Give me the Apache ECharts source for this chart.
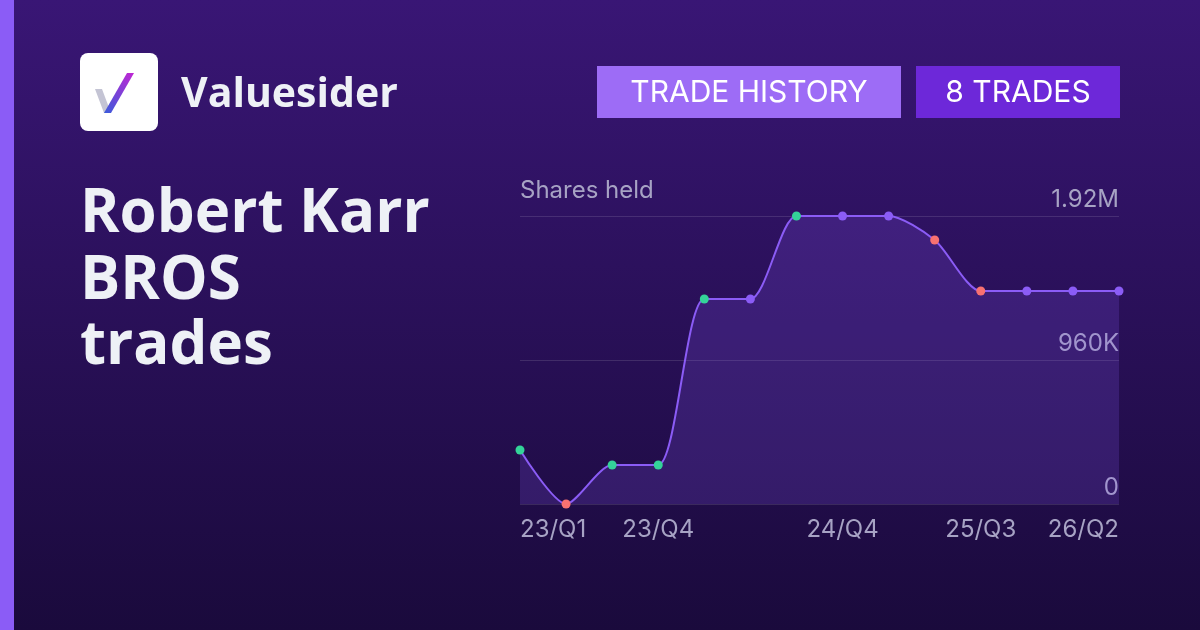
<!DOCTYPE html>
<html><head><meta charset="utf-8">
<script src="https://cdn.jsdelivr.net/npm/echarts@6/dist/echarts.min.js"></script>
<style>html,body{margin:0;padding:0;}#c{width:1200px;height:630px;}</style>
</head><body><div id="c"></div>
<script>
const categories = ['23/Q1','23/Q2','23/Q3','23/Q4','24/Q1','24/Q2','24/Q3','24/Q4','25/Q1','25/Q2','25/Q3','25/Q4','26/Q1','26/Q2'];
const shares = [360000, 0, 260000, 260000, 1367000, 1367000, 1920000, 1920000, 1920000, 1760000, 1420000, 1420000, 1420000, 1420000];
const tradeType = ['buy','sell','buy','buy','buy','hold','buy','hold','hold','sell','sell','hold','hold','hold'];
const shownLabels = ['23/Q1','23/Q4','24/Q4','25/Q3','26/Q2'];
const yTicks = {0:'0', 960000:'960K', 1920000:'1.92M'};
const dotColors = {buy:'#34d399', sell:'#f87171', hold:'#8b5cf6'};

const chart = echarts.init(document.getElementById('c'));
const font = 'Inter, "Noto Sans", sans-serif';
const tfont = '"Open Sans", Inter, sans-serif';
chart.setOption({
  backgroundColor: {type:'linear',x:0,y:0,x2:0,y2:1,colorStops:[{offset:0,color:'#391675'},{offset:1,color:'#1a0a3c'}]},
  grid:{left:520,right:81,top:216,bottom:126},
  xAxis:{type:'category',data:categories,boundaryGap:false,
    axisLine:{show:false},axisTick:{show:false},
    axisLabel:{interval:0,color:'#a7a3c4',fontSize:24,fontFamily:font,margin:14,
      alignMinLabel:'left',alignMaxLabel:'right',
      formatter:v=>shownLabels.includes(v)?v:''}},
  yAxis:{type:'value',min:0,max:1920000,interval:960000,position:'right',
    splitLine:{lineStyle:{color:'rgba(255,255,255,0.12)',width:1}},
    axisLine:{show:false},axisTick:{show:false},
    axisLabel:{inside:true,verticalAlign:'bottom',margin:0,padding:[0,0,4,0],color:'#a7a3c4',fontSize:24,fontFamily:font,
      formatter:v=>yTicks[v]!==undefined?yTicks[v]:''}},
  series:[{type:'line',data:shares.map((v,i)=>({value:v,itemStyle:{color:dotColors[tradeType[i]]}})),
    smooth:0.25,symbol:'circle',symbolSize:9,
    lineStyle:{color:'#8b5cf6',width:2},
    itemStyle:{borderWidth:0},
    areaStyle:{color:'rgba(139,92,246,0.28)'}}],
  graphic:[
    {type:'rect',shape:{x:0,y:0,width:14,height:630},style:{fill:'#8b5cf6'}},
    {type:'rect',shape:{x:80,y:53,width:78,height:78,r:8},style:{fill:'#ffffff'}},
    {type:'polygon',shape:{points:[[95,89],[102,89],[111,113],[104,113]]},style:{fill:'#c4c4d4'}},
    {type:'polygon',shape:{points:[[104,113],[111,113],[134,73],[127,73]]},style:{fill:new echarts.graphic.LinearGradient(0,1,1,0,[{offset:0,color:'#3b5bdb'},{offset:1,color:'#c026d3'}])}},
    {type:'text',style:{x:181,y:95,text:'Valuesider',fill:'#eef1f6',font:'bold 41px '+tfont,verticalAlign:'middle'}},
    {type:'text',style:{x:80,y:215,text:'Robert Karr',fill:'#eef1f6',font:'bold 60px '+tfont,verticalAlign:'middle'}},
    {type:'text',style:{x:80,y:282,text:'BROS',fill:'#eef1f6',font:'bold 60px '+tfont,verticalAlign:'middle'}},
    {type:'text',style:{x:80,y:347,text:'trades',fill:'#eef1f6',font:'bold 60px '+tfont,verticalAlign:'middle'}},
    {type:'rect',shape:{x:597,y:66,width:304,height:52},style:{fill:'#9d6cf6'}},
    {type:'text',style:{x:749,y:93,text:'TRADE HISTORY',fill:'#ffffff',font:'30px '+font,align:'center',verticalAlign:'middle'}},
    {type:'rect',shape:{x:916,y:66,width:204,height:52},style:{fill:'#6d28d9'}},
    {type:'text',style:{x:1018,y:93,text:'8 TRADES',fill:'#ffffff',font:'30px '+font,align:'center',verticalAlign:'middle'}},
    {type:'text',style:{x:520,y:191,text:'Shares held',fill:'#a7a3c4',font:'24px '+font,verticalAlign:'middle'}}
  ]
});
</script></body></html>
